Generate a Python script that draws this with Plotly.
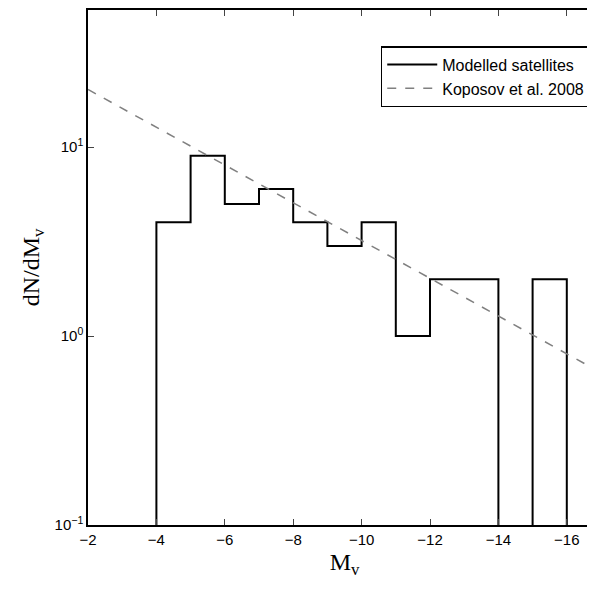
import plotly.graph_objects as go

# histogram of modelled satellites
bin_edges = [-4, -5, -6, -7, -8, -9, -10, -11, -12, -13, -14, -15, -16]
counts = [4, 9, 5, 6, 4, 3, 4, 1, 2, 2, 0, 2]

# Koposov et al. 2008 power law end points
kop_x = [-2, -17]
kop_y = [20.2, 0.64]

y_floor = 0.1

# build step outline, breaking the line where a bin is empty
step_x, step_y = [bin_edges[0]], [y_floor]
for i, c in enumerate(counts):
    if c > 0:
        if step_y[-1] is None:
            step_x.append(bin_edges[i])
            step_y.append(y_floor)
        step_x += [bin_edges[i], bin_edges[i + 1]]
        step_y += [c, c]
    else:
        step_x += [bin_edges[i], None]
        step_y += [y_floor, None]
step_x.append(bin_edges[-1])
step_y.append(y_floor)

fig = go.Figure()
fig.add_trace(go.Scatter(x=step_x, y=step_y, mode="lines",
                         line=dict(color="black", width=2),
                         name="Modelled satellites", connectgaps=False))
fig.add_trace(go.Scatter(x=kop_x, y=kop_y, mode="lines",
                         line=dict(color="#808080", width=1.5, dash="dash"),
                         name="Koposov et al. 2008"))

fig.update_layout(
    width=595, height=591,
    margin=dict(l=80, r=0, t=0, b=74),
    plot_bgcolor="white", paper_bgcolor="white",
    font=dict(family="Liberation Sans", size=15, color="black"),
    legend=dict(x=0.98, y=0.93, xanchor="right", yanchor="top",
                bordercolor="black", borderwidth=1.5, bgcolor="white",
                font=dict(size=16), itemwidth=50, tracegroupgap=6),
    xaxis=dict(range=[-2, -17], tickvals=list(range(-2, -17, -2)),
               ticks="inside", ticklen=6, showline=True, mirror="ticks",
               linecolor="black", linewidth=1.5, showgrid=False, zeroline=False,
               title=dict(text="M<sub>v</sub>", standoff=6,
                          font=dict(family="Liberation Serif", size=24))),
    yaxis=dict(type="log", range=[-1, 1.726],
               tickvals=[0.1, 1, 10],
               ticktext=["10<sup>−1</sup>", "10<sup>0</sup>", "10<sup>1</sup>"],
               ticks="inside", ticklen=6, showline=True, mirror="ticks",
               linecolor="black", linewidth=1.5, showgrid=False, zeroline=False,
               title=dict(text="dN/dM<sub>v</sub>", standoff=8,
                          font=dict(family="Liberation Serif", size=24))),
)

fig.write_html("out.html")
